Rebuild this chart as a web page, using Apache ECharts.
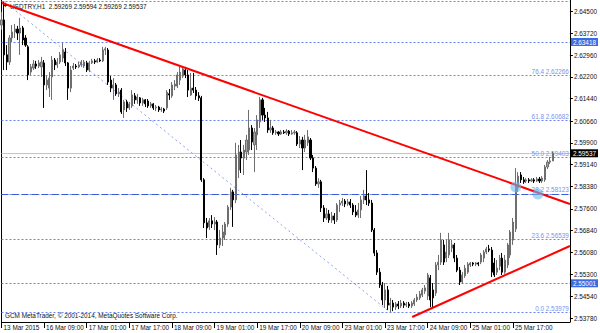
<!DOCTYPE html>
<html><head><meta charset="utf-8">
<script src="https://cdn.jsdelivr.net/npm/echarts@6/dist/echarts.min.js"></script>
<style>html,body{margin:0;padding:0;background:#fff}#c{width:600px;height:333px}</style>
</head><body><div id="c"></div>
<script>
// ---- data ----
const opens = [2.6401,2.6419,2.6297,2.6272,2.6356,2.6377,2.6387,2.6373,2.6391,2.6356,2.6325,2.6237,2.6251,2.6265,2.6258,2.6255,2.6269,2.6192,2.6181,2.6220,2.6279,2.6262,2.6272,2.6286,2.6307,2.6269,2.6181,2.6251,2.6258,2.6255,2.6262,2.6258,2.6269,2.6244,2.6269,2.6276,2.6272,2.6279,2.6276,2.6314,2.6314,2.6209,2.6181,2.6192,2.6161,2.6174,2.6105,2.6133,2.6112,2.6119,2.6154,2.6140,2.6147,2.6129,2.6140,2.6136,2.6119,2.6126,2.6112,2.6115,2.6105,2.6108,2.6112,2.6161,2.6154,2.6188,2.6188,2.6209,2.6223,2.6244,2.6227,2.6157,2.6181,2.6174,2.6154,2.6147,2.5861,2.5711,2.5697,2.5718,2.5707,2.5714,2.5634,2.5658,2.5669,2.5707,2.5766,2.5819,2.5791,2.5895,2.5958,2.5937,2.5958,2.5965,2.6042,2.5983,2.6018,2.6063,2.6140,2.6087,2.6077,2.6035,2.6042,2.6025,2.6028,2.6021,2.6028,2.6025,2.6031,2.6021,2.6025,2.6025,2.5986,2.6000,2.5972,2.5990,2.6000,2.5937,2.5902,2.5847,2.5854,2.5763,2.5728,2.5742,2.5721,2.5735,2.5721,2.5773,2.5780,2.5787,2.5777,2.5784,2.5773,2.5749,2.5738,2.5756,2.5791,2.5805,2.5791,2.5780,2.5686,2.5606,2.5539,2.5494,2.5442,2.5477,2.5424,2.5431,2.5417,2.5428,2.5421,2.5431,2.5424,2.5428,2.5421,2.5428,2.5442,2.5449,2.5459,2.5473,2.5456,2.5519,2.5477,2.5466,2.5564,2.5574,2.5634,2.5588,2.5599,2.5623,2.5634,2.5588,2.5546,2.5505,2.5526,2.5539,2.5564,2.5571,2.5567,2.5571,2.5574,2.5588,2.5609,2.5620,2.5616,2.5571,2.5539,2.5560,2.5588,2.5539,2.5564,2.5599,2.5651,2.5690,2.5833,2.5878,2.5861,2.5857,2.5861,2.5857,2.5861,2.5857,2.5864,2.5857,2.5861,2.5906,2.5923,2.59269];
const closes = [2.6419,2.6297,2.6272,2.6356,2.6377,2.6387,2.6373,2.6391,2.6349,2.6331,2.6227,2.6255,2.6265,2.6258,2.6269,2.6272,2.6192,2.6209,2.6216,2.6279,2.6262,2.6272,2.6297,2.6314,2.6269,2.6181,2.6244,2.6258,2.6255,2.6262,2.6272,2.6272,2.6244,2.6269,2.6276,2.6272,2.6279,2.6276,2.6314,2.6318,2.6202,2.6181,2.6192,2.6161,2.6167,2.6098,2.6133,2.6112,2.6126,2.6157,2.6140,2.6150,2.6129,2.6140,2.6126,2.6119,2.6126,2.6112,2.6115,2.6105,2.6108,2.6101,2.6167,2.6157,2.6192,2.6195,2.6227,2.6237,2.6248,2.6227,2.6174,2.6181,2.6174,2.6154,2.6147,2.5861,2.5711,2.5693,2.5718,2.5707,2.5714,2.5634,2.5658,2.5679,2.5707,2.5766,2.5819,2.5791,2.5948,2.5958,2.5937,2.5965,2.6000,2.6042,2.5993,2.6028,2.6070,2.6140,2.6087,2.6077,2.6035,2.6042,2.6025,2.6028,2.6021,2.6028,2.6025,2.6031,2.6021,2.6025,2.6028,2.5986,2.6000,2.5972,2.6000,2.6011,2.5937,2.5902,2.5847,2.5854,2.5763,2.5728,2.5742,2.5721,2.5735,2.5721,2.5773,2.5780,2.5787,2.5777,2.5784,2.5773,2.5749,2.5738,2.5756,2.5791,2.5805,2.5791,2.5780,2.5686,2.5606,2.5539,2.5494,2.5442,2.5477,2.5424,2.5431,2.5417,2.5428,2.5421,2.5431,2.5424,2.5428,2.5421,2.5431,2.5442,2.5452,2.5463,2.5477,2.5484,2.5529,2.5442,2.5449,2.5564,2.5574,2.5651,2.5574,2.5609,2.5651,2.5634,2.5588,2.5546,2.5505,2.5529,2.5553,2.5567,2.5571,2.5567,2.5571,2.5567,2.5599,2.5609,2.5620,2.5616,2.5539,2.5529,2.5553,2.5588,2.5539,2.5581,2.5634,2.5679,2.5714,2.5843,2.5874,2.5861,2.5854,2.5861,2.5857,2.5861,2.5857,2.5864,2.5857,2.5867,2.5906,2.5923,2.5927,2.59537];
const highs = [2.6447,2.64827,2.6331,2.6366,2.6401,2.6405,2.6398,2.6426,2.6398,2.6366,2.6331,2.6265,2.6279,2.6276,2.6279,2.6290,2.6279,2.6223,2.6237,2.6293,2.6286,2.6286,2.6307,2.6338,2.6321,2.6272,2.6258,2.6269,2.6265,2.6272,2.6279,2.6279,2.6276,2.6276,2.6283,2.6283,2.6286,2.6286,2.6325,2.6325,2.6321,2.6223,2.6216,2.6199,2.6181,2.6181,2.6140,2.6140,2.6133,2.6174,2.6164,2.6161,2.6150,2.6147,2.6143,2.6143,2.6133,2.6129,2.6122,2.6119,2.6115,2.6112,2.6174,2.6178,2.6202,2.6209,2.6237,2.6255,2.6258,2.6255,2.6244,2.6234,2.6234,2.6185,2.6167,2.6154,2.5867,2.5728,2.5728,2.5738,2.5731,2.5721,2.5686,2.5704,2.5714,2.5773,2.5833,2.5826,2.5990,2.5983,2.6000,2.5983,2.6018,2.6105,2.6052,2.6042,2.6087,2.6150,2.6147,2.6112,2.6098,2.6070,2.6049,2.6035,2.6031,2.6035,2.6035,2.6038,2.6035,2.6035,2.6035,2.6031,2.6014,2.6011,2.6018,2.6035,2.6007,2.5948,2.5909,2.5867,2.5861,2.5773,2.5763,2.5756,2.5749,2.5745,2.5780,2.5791,2.5798,2.5794,2.5794,2.5794,2.5780,2.5773,2.5780,2.5805,2.5826,2.5895,2.5815,2.5791,2.5693,2.5616,2.5553,2.5505,2.5501,2.5491,2.5449,2.5442,2.5435,2.5438,2.5442,2.5438,2.5435,2.5435,2.5438,2.5449,2.5463,2.5473,2.5484,2.5494,2.5536,2.5529,2.5501,2.5574,2.5599,2.5676,2.5651,2.5651,2.5676,2.5651,2.5641,2.5599,2.5557,2.5539,2.5564,2.5574,2.5574,2.5574,2.5574,2.5574,2.5606,2.5616,2.5627,2.5634,2.5627,2.5588,2.5581,2.5599,2.5606,2.5599,2.5641,2.5686,2.5728,2.5902,2.5888,2.5888,2.5871,2.5867,2.5867,2.5867,2.5867,2.5871,2.5871,2.5874,2.5913,2.5930,2.5941,2.59594];
const lows = [2.6384,2.6244,2.6244,2.6262,2.6342,2.6356,2.6349,2.6297,2.6331,2.6325,2.6209,2.6227,2.6244,2.6248,2.6251,2.6220,2.6112,2.6174,2.6150,2.6140,2.6244,2.6251,2.6265,2.6272,2.6258,2.6140,2.6167,2.6244,2.6248,2.6251,2.6255,2.6251,2.6237,2.6237,2.6265,2.6265,2.6269,2.6272,2.6272,2.6297,2.6192,2.6167,2.6140,2.6154,2.6150,2.6091,2.6077,2.6098,2.6105,2.6112,2.6126,2.6126,2.6119,2.6119,2.6115,2.6112,2.6112,2.6105,2.6101,2.6098,2.6098,2.6094,2.6105,2.6140,2.6147,2.6174,2.6181,2.6192,2.6216,2.6216,2.6150,2.6154,2.6164,2.6140,2.6136,2.5854,2.5693,2.5658,2.5686,2.5693,2.5686,2.5599,2.5623,2.5630,2.5651,2.5697,2.5756,2.5697,2.5780,2.5867,2.5885,2.5878,2.5930,2.5948,2.5965,2.5888,2.5965,2.6042,2.6070,2.6063,2.6025,2.6025,2.6018,2.6018,2.6014,2.6018,2.6021,2.6018,2.6014,2.6018,2.6018,2.5979,2.5972,2.5895,2.5958,2.5979,2.5930,2.5888,2.5840,2.5833,2.5749,2.5714,2.5721,2.5711,2.5711,2.5707,2.5714,2.5749,2.5770,2.5766,2.5770,2.5763,2.5738,2.5731,2.5728,2.5728,2.5777,2.5773,2.5770,2.5679,2.5595,2.5529,2.5484,2.5424,2.5414,2.5407,2.53979,2.5403,2.5407,2.5410,2.5414,2.5414,2.5417,2.5414,2.5414,2.5421,2.5435,2.5442,2.5452,2.5463,2.5442,2.5417,2.5414,2.5456,2.5546,2.5564,2.5564,2.5574,2.5588,2.5609,2.5574,2.5539,2.5494,2.5498,2.5519,2.5533,2.5557,2.5560,2.5560,2.5560,2.5567,2.5574,2.5602,2.5609,2.5522,2.5522,2.5529,2.5546,2.5529,2.5533,2.5553,2.5588,2.5634,2.5679,2.5819,2.5850,2.5847,2.5850,2.5850,2.5854,2.5850,2.5854,2.5850,2.5850,2.5854,2.5899,2.5916,2.59269];

const timeLabels = ['13 Mar 2015','16 Mar 09:00','17 Mar 01:00','17 Mar 17:00','18 Mar 09:00','19 Mar 01:00','19 Mar 17:00','20 Mar 09:00','23 Mar 01:00','23 Mar 17:00','24 Mar 09:00','25 Mar 01:00','25 Mar 17:00'];
const timeTickBars = [0,16,32,48,64,80,96,112,128,144,160,176,192];
const priceTicks = [2.645,2.6372,2.6296,2.622,2.6144,2.6066,2.599,2.5914,2.5838,2.576,2.5684,2.5608,2.553,2.5454,2.5378];
const fibLevels = ['0.0','23.6','38.2','50.0','61.8','76.4','100.0'];
const fibPrices = [2.53979,2.56539,2.58123,2.59403,2.60682,2.62266,2.64827];
const hLinePrices = [2.63418,2.55001];
const lastPrice = 2.59537;
const upperTrend = [[0.19,2.64779],[213.4,2.57768]];
const lowerTrend = [[154.2,2.53826],[213.4,2.56302]];
const fibDiagonal = [[1,2.64827],[146,2.53979]];
const circlePoints = [[193.1,2.5836],[201.4,2.58116]];
const headerText = 'USDTRY,H1  2.59269 2.59594 2.59269 2.59537';
const footerText = 'GCM MetaTrader, \u00A9 2001-2014, MetaQuotes Software Corp.';

// ---- chart ----
const FONT = 'Liberation Sans';
const FS = 6.4;
const Y_MIN = 2.53651, Y_MAX = 2.64884, X_MAX = 213.4;
const chart = echarts.init(document.getElementById('c'), null, {renderer:'svg'});
const candles = opens.map((o,i)=>[i,o,closes[i],lows[i],highs[i]]);

const fibLineData = fibPrices.map((p,k)=>({
  yAxis:p,
  label:{show:k<6, formatter: fibLevels[k]+' '+p.toFixed(5)}
}));

chart.setOption({
  animation:false,
  backgroundColor:'#fff',
  grid:{left:1.5, right:29, top:0, bottom:11, containLabel:false},
  xAxis:{
    type:'value', min:0, max:X_MAX,
    splitLine:{show:false},
    axisLine:{show:true, onZero:false, lineStyle:{color:'#000', width:1}},
    axisTick:{show:true, customValues:timeTickBars, length:6, lineStyle:{color:'#000'}},
    axisLabel:{customValues:timeTickBars, formatter:v=>timeLabels[Math.round(v/16)],
      align:'left', margin:2, padding:[0,0,0,2], fontSize:FS, fontFamily:FONT, color:'#111'}
  },
  yAxis:[{
    type:'value', position:'right', min:Y_MIN, max:Y_MAX,
    splitLine:{show:false},
    axisLine:{show:true, onZero:false, lineStyle:{color:'#000'}},
    axisTick:{show:true, customValues:priceTicks, length:3, lineStyle:{color:'#000'}},
    axisLabel:{customValues:priceTicks, formatter:v=>v.toFixed(5), margin:4,
      fontSize:FS, fontFamily:FONT, color:'#111'}
  },{
    type:'value', position:'left', min:Y_MIN, max:Y_MAX,
    splitLine:{show:false},
    axisLine:{show:true, onZero:false, lineStyle:{color:'#000'}},
    axisTick:{show:false}, axisLabel:{show:false}
  }],
  graphic:[
    {type:'text', left:3, top:1, style:{text:'+', font:'bold 8px '+FONT, fill:'#000'}},
    {type:'text', left:10, top:3, style:{text:headerText, font:FS+'px '+FONT, fill:'#111'}},
    {type:'text', left:5, top:312.5, style:{text:footerText, font:FS+'px '+FONT, fill:'#111'}}
  ],
  series:[
    { // fibonacci levels
      type:'line', data:[], silent:true, z:1,
      markLine:{silent:true, symbol:'none', z:1, animation:false, precision:5,
        lineStyle:{color:'#6a86ec', type:[2,2], width:1},
        label:{position:'insideEndTop', distance:1, color:'#7d92ee', fontSize:FS, fontFamily:FONT},
        emphasis:{disabled:true},
        data:fibLineData}
    },
    { // extra dashed horizontal at 38.2
      type:'line', data:[], silent:true, z:1,
      markLine:{silent:true, symbol:'none', z:1, animation:false, precision:5,
        lineStyle:{color:'#3a5ad8', type:[7,3], width:1},
        label:{show:false}, emphasis:{disabled:true},
        data:[{yAxis:fibPrices[2]}]}
    },
    { // horizontal lines with price tags
      type:'line', data:[], silent:true, z:1,
      markLine:{silent:true, symbol:'none', z:1, animation:false, precision:5,
        lineStyle:{color:'#5f7fea', type:[2,2], width:1},
        label:{position:'end', distance:1, color:'#fff', backgroundColor:'#3b6be0',
          padding:[1,2,1,2], fontSize:FS, fontFamily:FONT, formatter:p=>Number(p.value).toFixed(5)},
        emphasis:{disabled:true},
        data:hLinePrices.map(p=>({yAxis:p}))}
    },
    { // last price line
      type:'line', data:[], silent:true, z:1,
      markLine:{silent:true, symbol:'none', z:1, animation:false, precision:5,
        lineStyle:{color:'#c8c8c8', type:'solid', width:1},
        label:{position:'end', distance:1, color:'#fff', backgroundColor:'#000',
          padding:[1,2,1,2], fontSize:FS, fontFamily:FONT, formatter:p=>Number(p.value).toFixed(5)},
        emphasis:{disabled:true},
        data:[{yAxis:lastPrice}]}
    },
    { // fibonacci diagonal
      type:'line', data:fibDiagonal, symbol:'none', silent:true, z:1,
      lineStyle:{color:'#8ea2f0', type:[2,3], width:1}
    },
    {
      type:'candlestick', layout:'horizontal', data:candles, z:3,
      encode:{x:0, y:[1,2,3,4]},
      barWidth:1.6, silent:true,
      itemStyle:{color:'#a6a6a6', color0:'#000', borderColor:'#6e6e6e', borderColor0:'#000', borderWidth:1}
    },
    {
      type:'line', data:upperTrend, symbol:'none', silent:true, z:4,
      lineStyle:{color:'#ff0000', width:2}
    },
    {
      type:'line', data:lowerTrend, symbol:'none', silent:true, z:4,
      lineStyle:{color:'#ff0000', width:2}
    },
    {
      type:'scatter', data:circlePoints, symbol:'circle', symbolSize:11, silent:true, z:5,
      itemStyle:{color:'rgba(110,185,235,0.75)'}
    }
  ]
});
</script>
</body></html>
